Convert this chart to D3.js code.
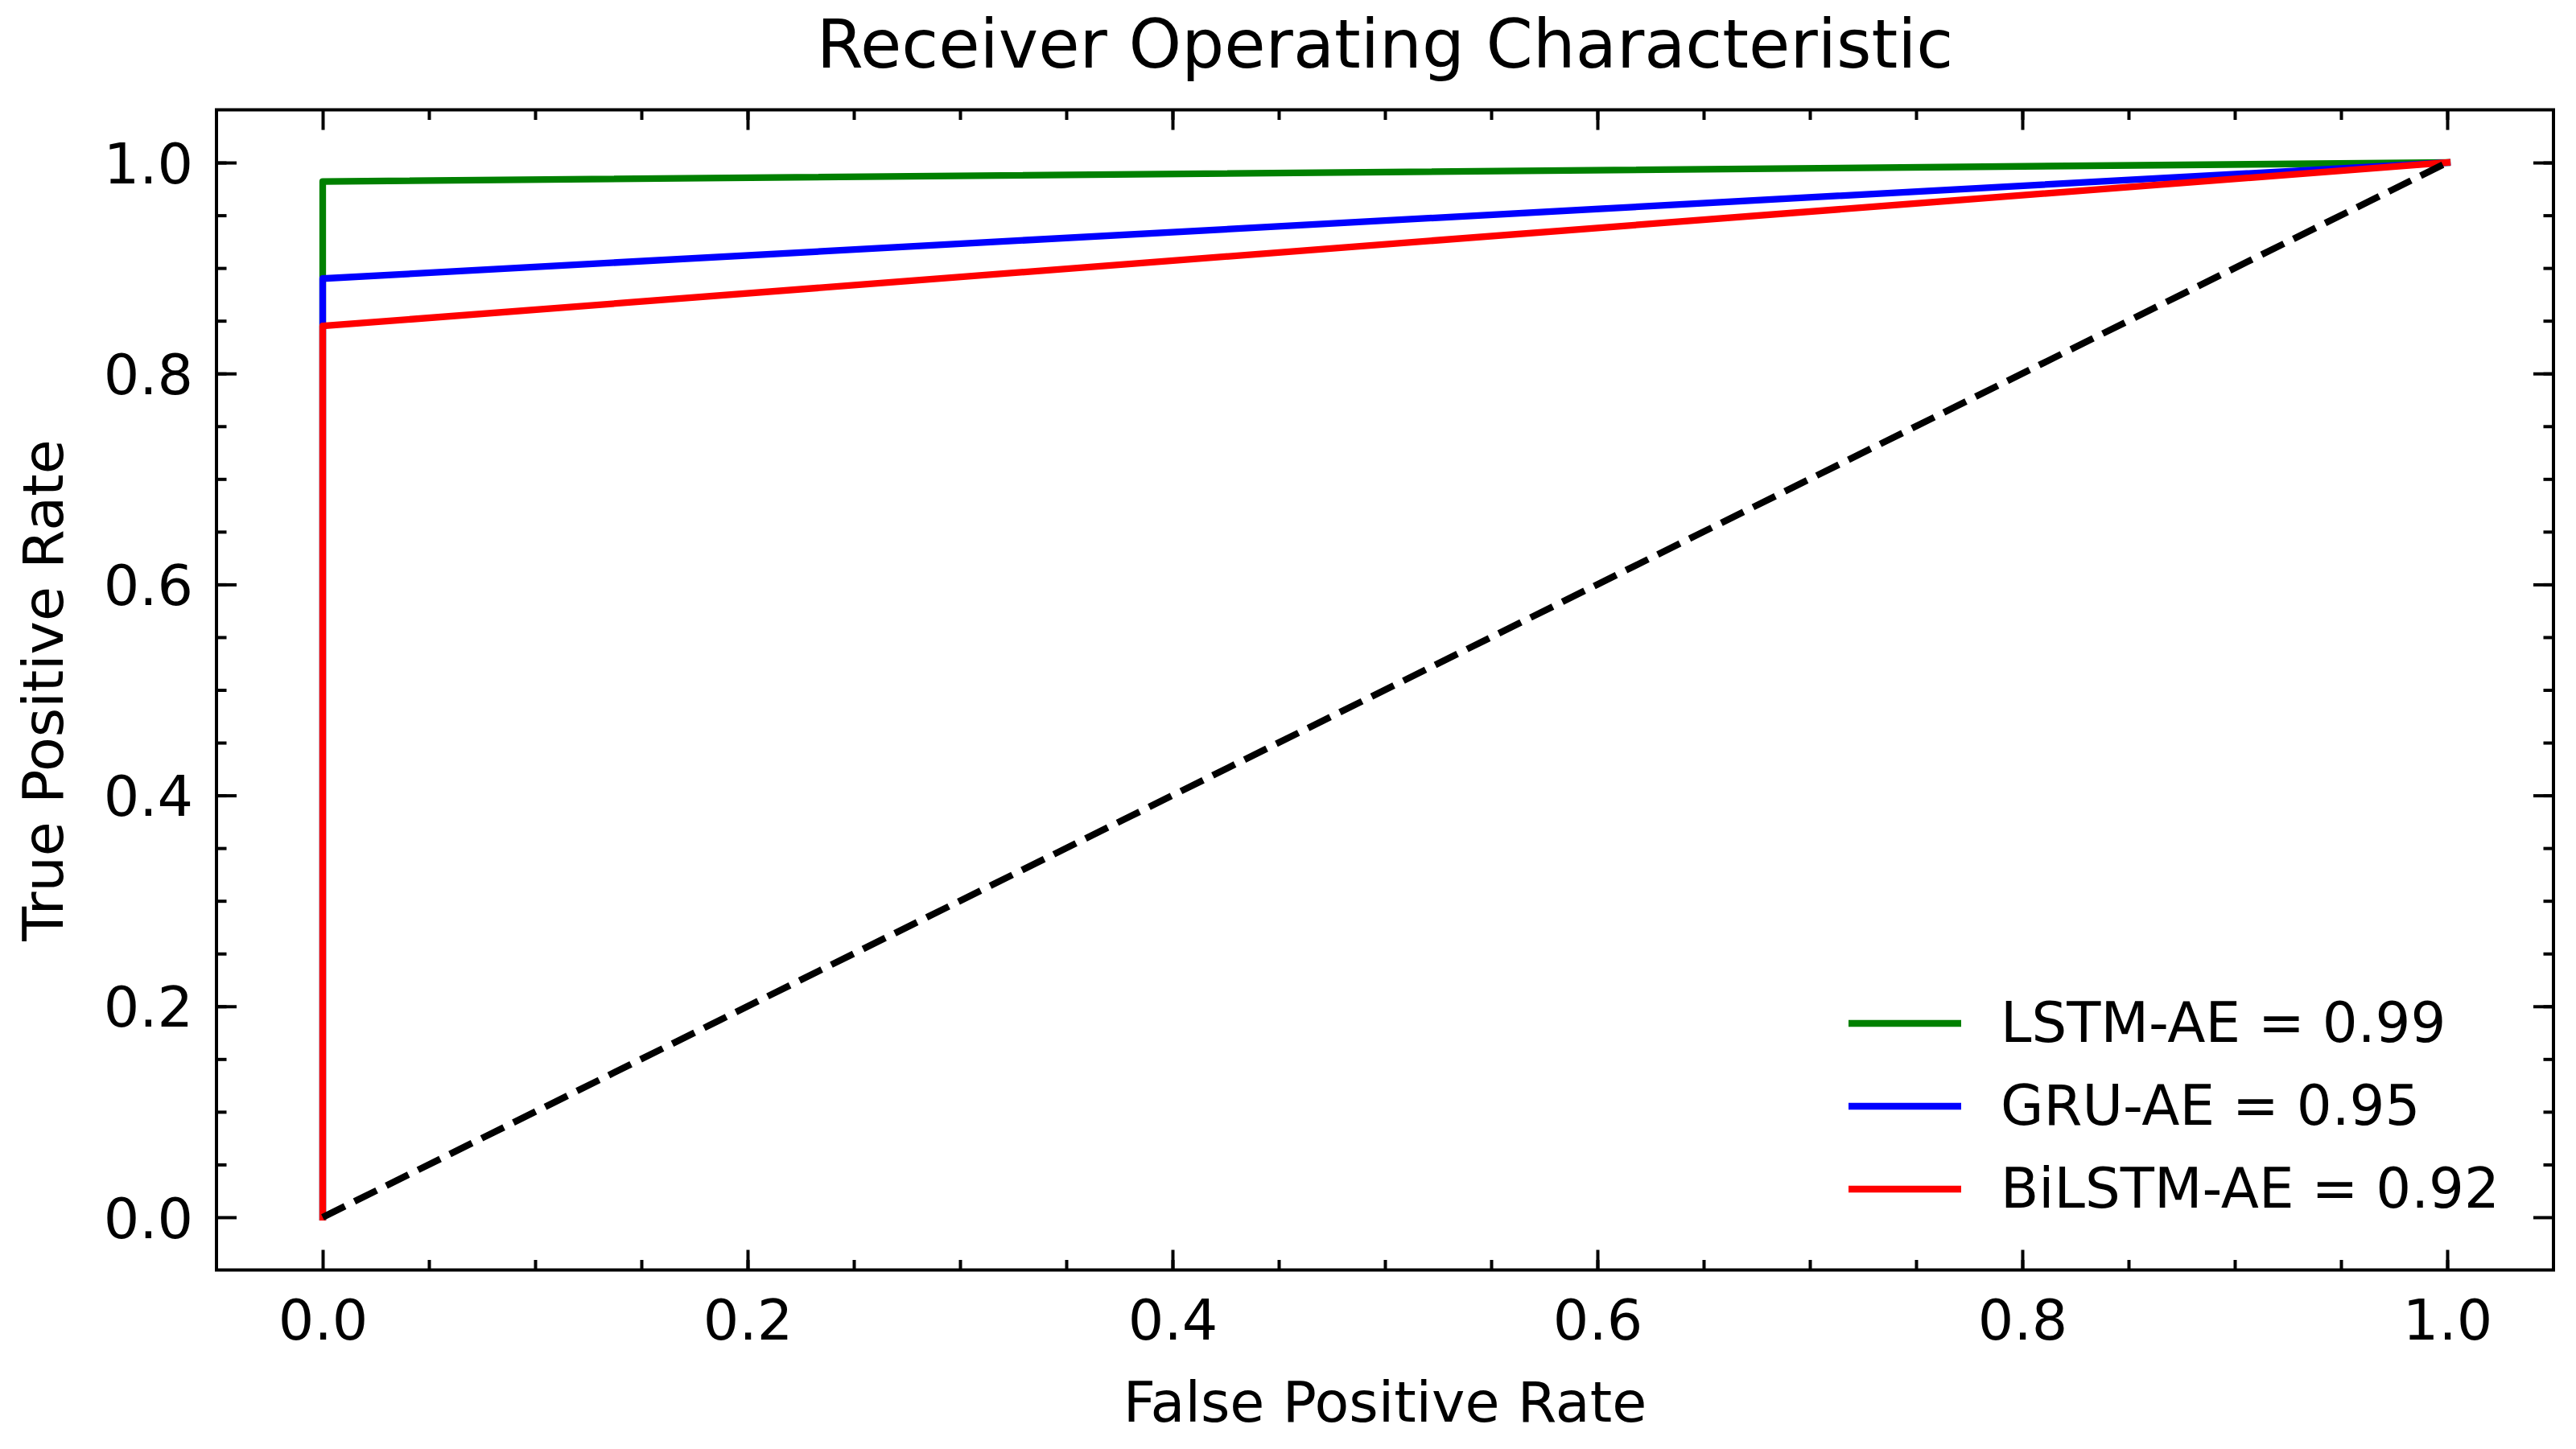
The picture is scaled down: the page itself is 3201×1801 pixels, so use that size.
<!DOCTYPE html>
<html>
<head>
<meta charset="utf-8">
<script src="https://cdn.jsdelivr.net/npm/d3@7"></script>
<style>
  body { margin: 0; background: #fff; }
  text { font-family: "DejaVu Sans", sans-serif; fill: #000; }
</style>
</head>
<body>
<div id="viz"></div>
<script>
// ROC points
const fpr = [0, 0, 1];
const models = ["LSTM-AE", "GRU-AE", "BiLSTM-AE"];
const auc = [0.99, 0.95, 0.92];
const tprLstm = [0, 0.982, 1];
const tprGru = [0, 0.890, 1];
const tprBilstm = [0, 0.845, 1];
const chance = [0, 1];
const tickVals = [0, 0.2, 0.4, 0.6, 0.8, 1.0];

const colors = ["#008000", "#0000ff", "#ff0000"];
const tprs = [tprLstm, tprGru, tprBilstm];

const width = 3201;
const height = 1801;
const fontSize = 70;
const lw = 8.3;

const svg = d3.select("#viz").append("svg")
    .attr("width", width)
    .attr("height", height);

const xScale = d3.scaleLinear().domain([-0.05, 1.05]).range([269, 3173]);
const yScale = d3.scaleLinear().domain([-0.05, 1.05]).range([1578.5, 136.5]);

const minorVals = d3.range(1, 21).map(i => i * 0.05).filter(v => v < 1.04);

// minor ticks, all four sides, pointing in
function minorAxis(axis, scale) {
    return axis(scale).tickValues(minorVals).tickSize(-12.5).tickFormat("");
}
function majorAxis(axis, scale) {
    return axis(scale).tickValues(tickVals).tickSize(-25).tickFormat("");
}

const sides = [
    [d3.axisBottom, xScale, `translate(0,${yScale.range()[0]})`],
    [d3.axisTop, xScale, `translate(0,${yScale.range()[1]})`],
    [d3.axisLeft, yScale, `translate(${xScale.range()[0]},0)`],
    [d3.axisRight, yScale, `translate(${xScale.range()[1]},0)`]
];
sides.forEach(([ax, sc, tr]) => {
    [minorAxis(ax, sc), majorAxis(ax, sc)].forEach(a => {
        const g = svg.append("g").attr("transform", tr).call(a);
        g.select(".domain").remove();
        g.selectAll("line").attr("stroke", "#000").attr("stroke-width", 4);
    });
});

// tick labels
svg.append("g")
    .attr("transform", `translate(0,${yScale.range()[0]})`)
    .call(d3.axisBottom(xScale).tickValues(tickVals).tickSize(0).tickPadding(37).tickFormat(d3.format(".1f")))
    .call(g => g.select(".domain").remove())
    .call(g => g.selectAll("text").attr("font-size", fontSize).attr("font-family", "DejaVu Sans"));

svg.append("g")
    .attr("transform", `translate(${xScale.range()[0]},0)`)
    .call(d3.axisLeft(yScale).tickValues(tickVals).tickSize(0).tickPadding(29).tickFormat(d3.format(".1f")))
    .call(g => g.select(".domain").remove())
    .call(g => g.selectAll("text").attr("font-size", fontSize).attr("font-family", "DejaVu Sans").attr("dy", "0.36em"));

// curves
const line = d3.line()
    .x(d => xScale(d[0]))
    .y(d => yScale(d[1]));

svg.selectAll(".roc")
    .data(tprs)
    .join("path")
        .attr("class", "roc")
        .attr("fill", "none")
        .attr("stroke", (d, i) => colors[i])
        .attr("stroke-width", lw)
        .attr("stroke-linecap", "square")
        .attr("stroke-linejoin", "round")
        .attr("d", d => line(d.map((t, i) => [fpr[i], t])));

svg.append("path")
    .attr("fill", "none")
    .attr("stroke", "#000")
    .attr("stroke-width", lw)
    .attr("stroke-dasharray", "30.8,13.3")
    .attr("d", line(chance.map(v => [v, v])));

// frame
svg.append("rect")
    .attr("x", xScale.range()[0])
    .attr("y", yScale.range()[1])
    .attr("width", xScale.range()[1] - xScale.range()[0])
    .attr("height", yScale.range()[0] - yScale.range()[1])
    .attr("fill", "none")
    .attr("stroke", "#000")
    .attr("stroke-width", 4);

// legend
const gLegend = svg.selectAll(".legend")
    .data(models)
    .join("g")
        .attr("class", "legend")
        .attr("transform", (d, i) => `translate(2297,${1272 + i * 103})`);

gLegend.append("line")
    .attr("x1", 0).attr("x2", 140)
    .attr("stroke", (d, i) => colors[i])
    .attr("stroke-width", lw);

gLegend.append("text")
    .attr("x", 189)
    .attr("dy", "0.33em")
    .attr("font-size", 69)
    .text((d, i) => `${d} = ${auc[i].toFixed(2)}`);

// titles
svg.append("text")
    .attr("x", 1721).attr("y", 84)
    .attr("text-anchor", "middle")
    .attr("font-size", 83.5)
    .text("Receiver Operating Characteristic");

svg.append("text")
    .attr("x", 1721).attr("y", 1767)
    .attr("text-anchor", "middle")
    .attr("font-size", fontSize)
    .text("False Positive Rate");

svg.append("text")
    .attr("transform", `translate(78,858) rotate(-90)`)
    .attr("text-anchor", "middle")
    .attr("font-size", fontSize)
    .text("True Positive Rate");
</script>
</body>
</html>
